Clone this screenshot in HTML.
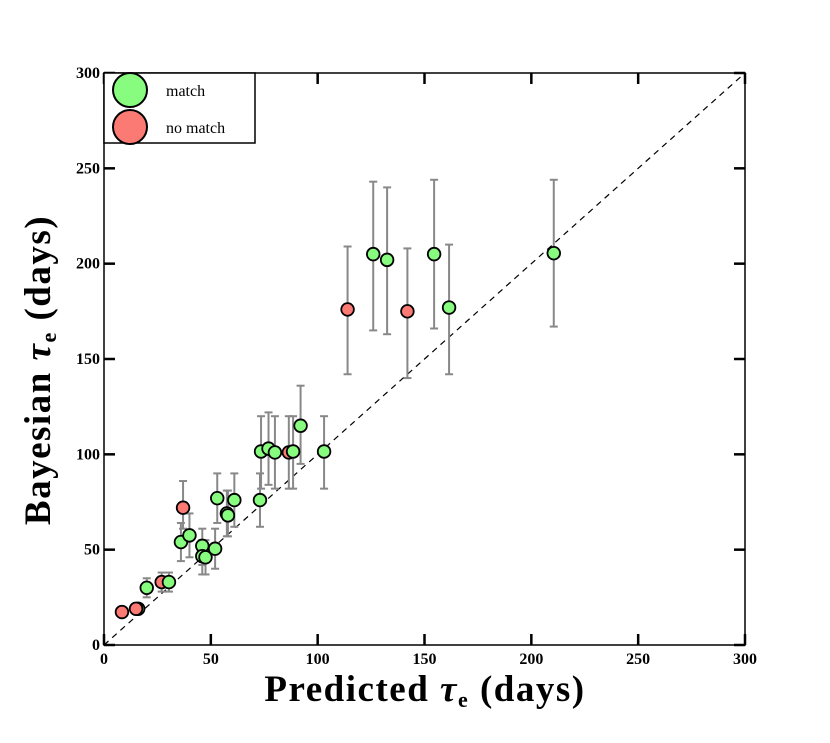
<!DOCTYPE html>
<html><head><meta charset="utf-8"><style>
body{margin:0;background:#fff;}
svg text{font-family:"Liberation Serif","DejaVu Serif",serif;}
</style></head><body>
<svg id="chart" width="830" height="738" xmlns="http://www.w3.org/2000/svg">
<g id="grid"></g>
</svg>
<script>
const predicted = [8.4,16,15,20,27,30.4,36,37,40,46,46,47.5,52,53,57.5,58,61,73,73.5,77,80,86.5,88.5,92,103,114,126,132.5,142,154.5,161.5,210.5];
const bayesian  = [17.3,19,19,30,33,33,54,72,57.5,52,46.6,46,50.5,77,69,68,76,76,101.5,103,101,101,101.5,115,101.5,176,205,202,175,205,177,205.5];
const errLow    = [null,null,null,25,28,28,44,61,46,42,37,37,40,64,57,57,62,62,82,84,82,82,82,95,82,142,165,163,140,166,142,167];
const errHigh   = [null,null,null,35,38,38,64,86,69,61,55,55,61,90,81,81,90,90,120,122,120,120,120,136,120,209,243,240,208,244,210,244];
const isMatch   = [0,1,0,1,0,1,1,0,1,1,1,1,1,1,1,1,1,1,1,1,1,0,1,1,1,0,1,1,0,1,1,1];
const ticks = [0,50,100,150,200,250,300];

const NS="http://www.w3.org/2000/svg";
const svg=document.getElementById('chart');
const L=104,R=745,T=73,B=645;
const xs=v=>L+(v/300)*(R-L);
const ys=v=>B-(v/300)*(B-T);
function mk(tag,attrs,parent){const e=document.createElementNS(NS,tag);for(const k in attrs)e.setAttribute(k,attrs[k]);(parent||svg).appendChild(e);return e;}

let d=mk('line',{x1:xs(0),y1:ys(0),x2:xs(300),y2:ys(300),stroke:'#000','stroke-width':1.2,'stroke-dasharray':'6,5'});



predicted.forEach((p,i)=>{
  if(errLow[i]==null)return;
  const g=mk('g',{stroke:'#888','stroke-width':2});
  
  
  mk('line',{x1:xs(p),x2:xs(p),y1:ys(errLow[i]),y2:ys(errHigh[i])},g);
  mk('line',{x1:xs(p)-4,x2:xs(p)+4,y1:ys(errLow[i]),y2:ys(errLow[i])},g);
  mk('line',{x1:xs(p)-4,x2:xs(p)+4,y1:ys(errHigh[i]),y2:ys(errHigh[i])},g);
});
predicted.forEach((p,i)=>{
  const c=mk('circle',{cx:xs(p),cy:ys(bayesian[i]),r:6.3,fill:isMatch[i]?'#88fc7f':'#fc7a74',stroke:'#000','stroke-width':1.8});
  
  
});

let f=mk('rect',{x:L,y:T,width:R-L,height:B-T,fill:'none',stroke:'#000','stroke-width':1.5});



ticks.forEach(t=>{
  const g=mk('g',{stroke:'#000','stroke-width':2.5});
  
  
  mk('line',{x1:xs(t),x2:xs(t),y1:B,y2:B-11},g);
  mk('line',{x1:xs(t),x2:xs(t),y1:T,y2:T+11},g);
  mk('line',{x1:L,x2:L+11,y1:ys(t),y2:ys(t)},g);
  mk('line',{x1:R,x2:R-11,y1:ys(t),y2:ys(t)},g);
  const tx=mk('text',{x:xs(t),y:B+19,'text-anchor':'middle','font-size':16,'font-weight':'bold'});
  tx.textContent=t;
  
  
  const ty=mk('text',{x:L-4,y:ys(t)+5,'text-anchor':'end','font-size':16,'font-weight':'bold'});
  ty.textContent=t;
  
  
});
</script>
<svg style="position:absolute;left:0;top:0" width="830" height="738" xmlns="http://www.w3.org/2000/svg">
<g>
<rect x="104" y="73" width="151" height="70" fill="#fff" stroke="#000" stroke-width="1.5"/>
<circle cx="130" cy="90" r="17" fill="#88fc7f" stroke="#000" stroke-width="2"/>
<circle cx="130" cy="127" r="17" fill="#fc7a74" stroke="#000" stroke-width="2"/>
<text x="166" y="96" font-size="16" font-family="Liberation Serif,serif">match</text>
<text x="166" y="133" font-size="16" font-family="Liberation Serif,serif">no match</text>
</g>
<text x="425" y="701" text-anchor="middle" font-size="37" font-weight="bold" letter-spacing="1.5" font-family="Liberation Serif,serif">Predicted <tspan font-style="italic">τ</tspan><tspan font-size="22" dy="6">e</tspan><tspan dy="-6"> (days)</tspan></text>
<text transform="translate(50,370) rotate(-90)" text-anchor="middle" font-size="37" font-weight="bold" letter-spacing="1.5" font-family="Liberation Serif,serif">Bayesian <tspan font-style="italic">τ</tspan><tspan font-size="22" dy="6">e</tspan><tspan dy="-6"> (days)</tspan></text>
</svg>
</body></html>
